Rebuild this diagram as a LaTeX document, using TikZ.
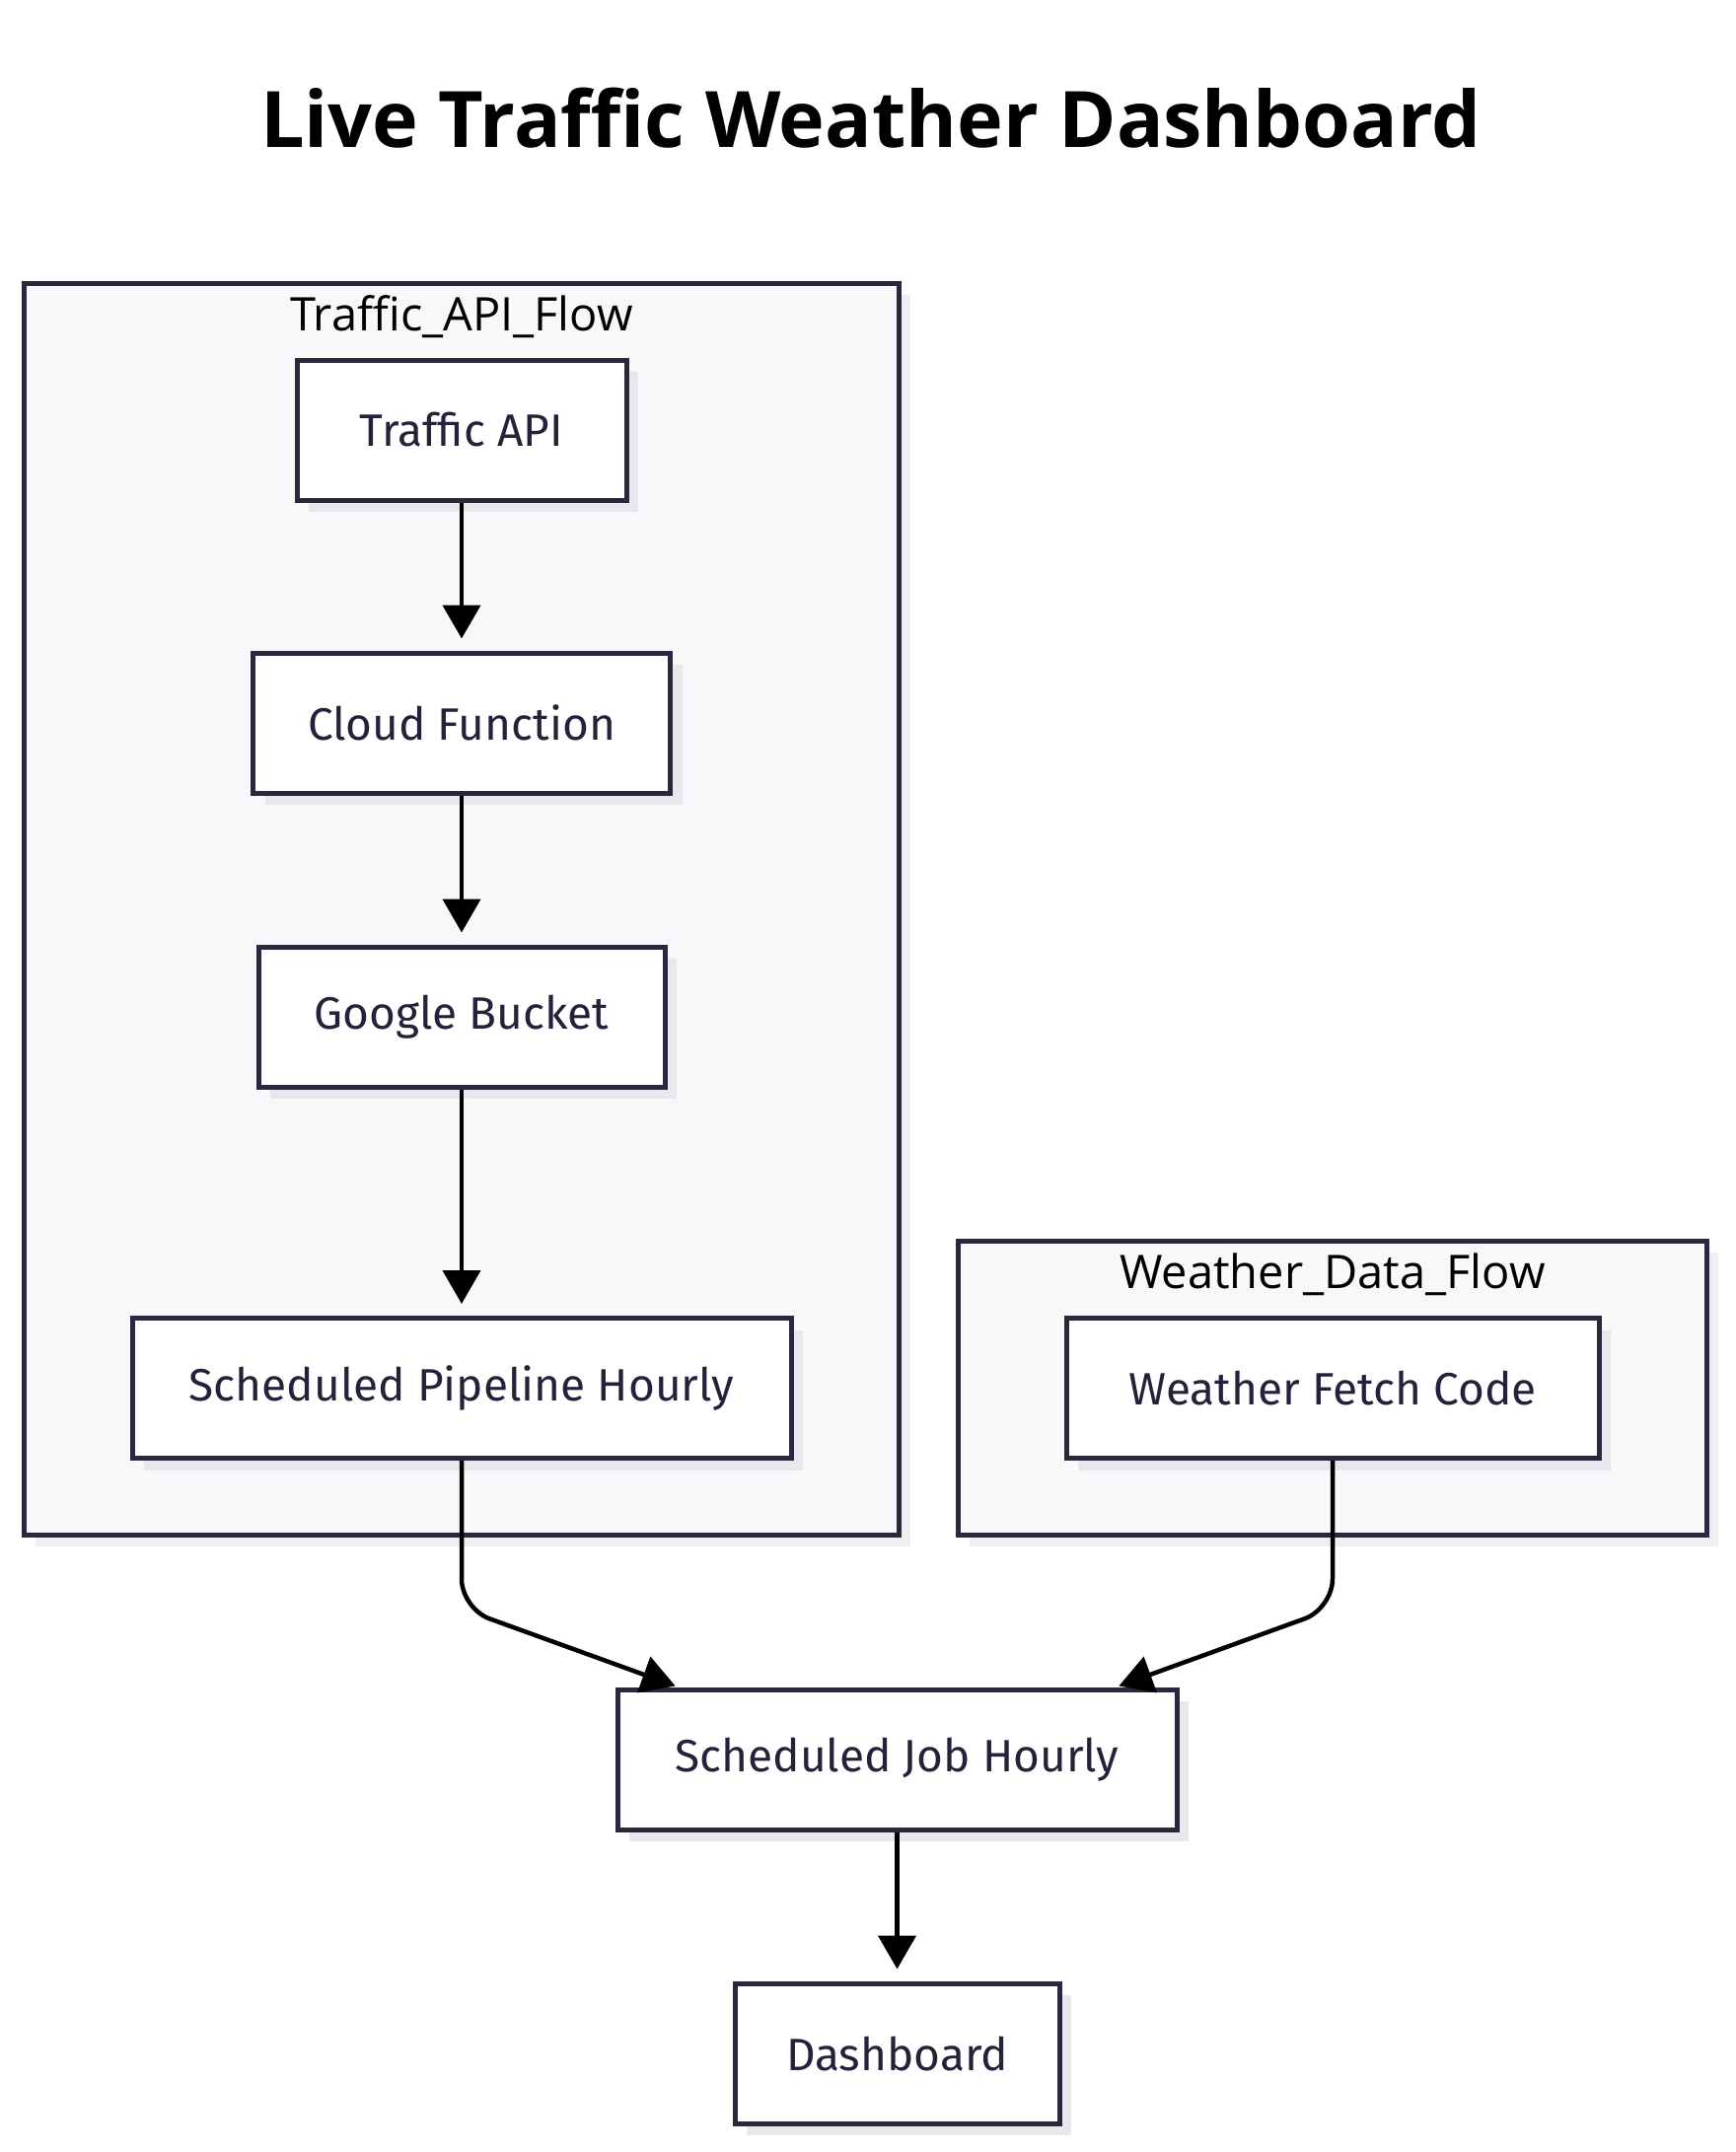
\documentclass[tikz,border=0pt]{standalone}
\usepackage{fontspec}
\setmainfont{Fira Sans}
\newfontfamily\titlefont{Open Sans}
\newfontfamily\clusterfont{Open Sans}
\usetikzlibrary{shadows,arrows.meta,calc}
\definecolor{nodeborder}{HTML}{28283E}
\definecolor{nodetext}{HTML}{22223A}
\definecolor{clusterfill}{HTML}{F8F8FA}
\definecolor{shadowgray}{HTML}{E8E8EC}
\definecolor{cshadow}{HTML}{EFEFEF}
\tikzset{
  box/.style={draw=nodeborder, line width=5pt, fill=white, rectangle,
    minimum height=142pt, inner sep=0pt, text=nodetext,
    font=\fontsize{46}{54}\selectfont,
    drop shadow={shadow xshift=12pt, shadow yshift=-12pt, opacity=1, fill=shadowgray}},
  cluster/.style={draw=nodeborder, line width=5pt, fill=clusterfill,
    drop shadow={shadow xshift=12pt, shadow yshift=-12pt, opacity=1, fill=cshadow}},
  clabel/.style={anchor=base, text=black, font=\clusterfont\fontsize{47}{56}\selectfont},
  edge/.style={draw=black, line width=4.5pt, -{Triangle[length=34pt,width=38pt]}},
}
\begin{document}
\begin{tikzpicture}[x=1pt,y=-1pt]
\path[use as bounding box, fill=white] (0,0) rectangle (1759,2182);
\node[anchor=base, font=\titlefont\bfseries\fontsize{79}{95}\selectfont] (title) at (883,149) {Live Traffic Weather Dashboard};
% clusters
\node[cluster, minimum width=887pt, minimum height=1269pt, inner sep=0pt] (tcl) at (467.5,921.5) {};
\node[cluster, minimum width=759pt, minimum height=298pt, inner sep=0pt] (wcl) at (1350.5,1407) {};
\node[clabel] (tlab) at (468,335) {Traffic\_API\_Flow};
\node[clabel] (wlab) at (1351,1306) {Weather\_Data\_Flow};
% nodes
\node[box, minimum width=334pt] (tapi) at (468,436) {Traffic API};
\node[box, minimum width=423pt] (cloud) at (468,733) {Cloud Function};
\node[box, minimum width=412pt] (bucket) at (468,1031) {Google Bucket};
\node[box, minimum width=668pt] (pipe) at (468,1407.5) {Scheduled Pipeline Hourly};
\node[box, minimum width=540pt] (wfc) at (1351,1407.5) {Weather Fetch Code};
\node[box, minimum width=567pt] (job) at (909.5,1784) {Scheduled Job Hourly};
\node[box, minimum width=329pt] (dash) at (909.5,2082) {Dashboard};
% edges
\draw[edge, shorten >=12pt] (tapi.south) -- (cloud.north);
\draw[edge, shorten >=12pt] (cloud.south) -- (bucket.north);
\draw[edge, shorten >=12pt] (bucket.south) -- (pipe.north);
\draw[edge, shorten >=12pt] (job.south) -- (dash.north);
\coordinate (c1) at (468,1631);
\coordinate (c2) at (1351,1631);
\coordinate (j1) at ($(job.north west)+(64,0)$);
\coordinate (j2) at ($(job.north east)+(-64,0)$);
\draw[edge, rounded corners=30pt, shorten >=3pt] (pipe.south) -- (c1) -- (j1);
\draw[edge, rounded corners=30pt, shorten >=3pt] (wfc.south) -- (c2) -- (j2);
\end{tikzpicture}
\end{document}
